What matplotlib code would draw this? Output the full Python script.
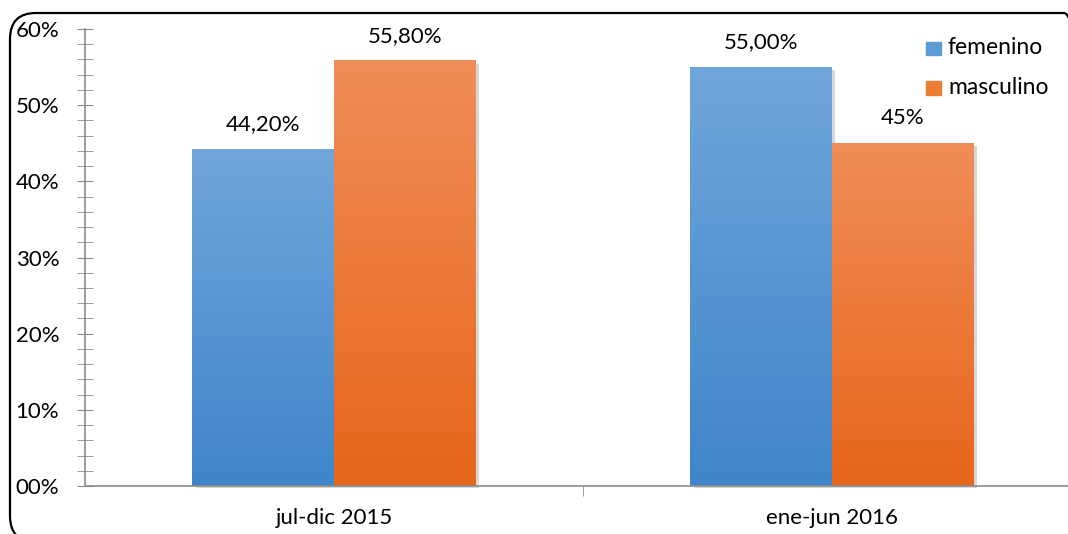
import numpy as np
import matplotlib.pyplot as plt
from matplotlib.patches import FancyBboxPatch, Rectangle
from matplotlib.colors import LinearSegmentedColormap
from matplotlib.transforms import IdentityTransform

# Data
periods = ['jul-dic 2015', 'ene-jun 2016']
femenino = [44.2, 55.0]
masculino = [55.8, 45.0]
fem_labels = ['44,20%', '55,00%']
mas_labels = ['55,80%', '45%']
ytick_labels = ['00%', '10%', '20%', '30%', '40%', '50%', '60%']

plt.rcParams['font.family'] = ['Lato', 'DejaVu Sans']
plt.rcParams['font.size'] = 16

blue_cmap = LinearSegmentedColormap.from_list('b', ['#3f85ca', '#70a6db'])
orange_cmap = LinearSegmentedColormap.from_list('o', ['#e6661a', '#f18d58'])

W, H = 1068, 534
fig = plt.figure(figsize=(W / 100, H / 100), dpi=100)
ax = fig.add_axes([85 / W, 1 - 486 / H, (W - 85) / W, (486 - 29) / H])

width = 0.285
x = np.arange(len(periods))
grad = np.linspace(0, 1, 256).reshape(-1, 1)


def gradient_bar(xc, h, cmap):
    # soft shadow
    ax.add_patch(Rectangle((xc - width / 2 + 0.007, -0.2), width, h - 0.2, color='#b0b0b0',
                           alpha=0.5, zorder=1, lw=0, clip_on=False))
    ax.imshow(grad, extent=(xc - width / 2, xc + width / 2, 0, h), origin='lower',
              cmap=cmap, aspect='auto', zorder=2)


for i in range(len(periods)):
    gradient_bar(x[i] - width / 2, femenino[i], blue_cmap)
    gradient_bar(x[i] + width / 2, masculino[i], orange_cmap)
    ax.text(x[i] - width / 2, femenino[i] + 2.5, fem_labels[i], ha='center', va='baseline')
    ax.text(x[i] + width / 2, masculino[i] + 2.5, mas_labels[i], ha='center', va='baseline')

ax.set_xlim(-0.5, 1.474)
ax.set_ylim(0, 60)
ax.set_yticks(np.arange(0, 61, 10))
ax.set_yticklabels(ytick_labels)
ax.set_yticks(np.arange(0, 61, 2), minor=True)
ax.set_xticks([0.5], minor=True)
ax.set_xticks(x)
ax.set_xticklabels(periods)

for s in ['top', 'right']:
    ax.spines[s].set_visible(False)
ax.spines['left'].set_color('#8c8c8c')
ax.spines['bottom'].set_color('#8c8c8c')
ax.spines['left'].set_linewidth(1.2)
ax.spines['bottom'].set_linewidth(1.2)
ax.tick_params(axis='y', which='both', direction='inout', length=11, color='#8c8c8c', pad=13)
ax.tick_params(axis='x', which='major', length=0, pad=16)
ax.tick_params(axis='x', which='minor', direction='out', length=7, color='#8c8c8c')

# legend
px = IdentityTransform()
fig.patches.append(Rectangle((926, H - 55), 15, 13, transform=px,
                             color='#5b9bd5', figure=fig))
fig.patches.append(Rectangle((926, H - 95), 15, 14, transform=px,
                             color='#ed7d31', figure=fig))
fig.text(948 / W, 1 - 48 / H, 'femenino', va='center', fontsize=16.5)
fig.text(948 / W, 1 - 88 / H, 'masculino', va='center', fontsize=16.5)

# rounded frame
frame = FancyBboxPatch((10, -8), 1090 - 10, H - 13 + 8,
                       boxstyle='round,pad=0,rounding_size=26', transform=px,
                       fill=False, edgecolor='black', lw=1.6, figure=fig)
fig.patches.append(frame)

fig.savefig('out.png', dpi=100)
